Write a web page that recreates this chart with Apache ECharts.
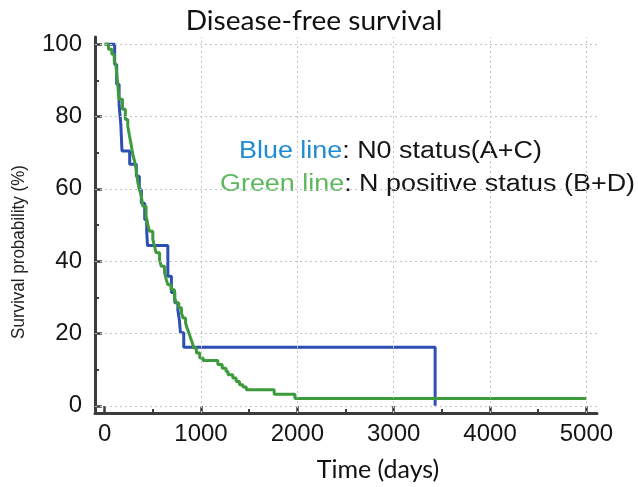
<!DOCTYPE html>
<html>
<head>
<meta charset="utf-8">
<script src="https://cdn.jsdelivr.net/npm/echarts@6/dist/echarts.min.js"></script>
<style>
html,body{margin:0;padding:0;background:#fff;}
#chart{width:638px;height:487px;}
</style>
</head>
<body>
<div id="chart"></div>
<script>
// ---- data ----
const xMajorTicks = [0, 1000, 2000, 3000, 4000, 5000];
const xMinorTicks = [500, 1500, 2500, 3500, 4500];
const yMajorTicks = [0, 20, 40, 60, 80, 100];
const yMinorTicks = [10, 30, 50, 70, 90];

// Blue line: N0 status (A+C) — time (days), survival (%) after each step
const blueTime = [0, 104, 125, 150, 168, 180, 260, 329, 360, 381, 416, 437, 445, 656, 693, 728, 760, 775, 787, 821, 3430];
const blueSurv = [100, 94.4, 88.9, 83.3, 77.8, 70.5, 66.8, 63.5, 59.8, 56, 51.5, 48, 44.3, 35.8, 31.3, 28.5, 26.5, 23.8, 20.2, 16.2, 0];

// Green line: N positive status (B+D)
const greenTime = [0, 40, 75, 100, 118, 128, 139, 149, 185, 215, 240, 258, 275, 292, 310, 327, 345, 362, 380, 397, 430, 448, 466, 500, 518, 535, 570, 587, 622, 640, 656, 690, 725, 745, 770, 797, 814, 840, 856, 876, 891, 911, 925, 953, 987, 1022, 1175, 1220, 1260, 1281, 1330, 1365, 1400, 1435, 1470, 1760, 1975, 5000];
const greenSurv = [100, 98.6, 97.2, 95.4, 94, 91.2, 88, 84.8, 82, 79.2, 77.4, 74.6, 72.3, 69.5, 67.7, 65.4, 61.7, 59.8, 58, 55.2, 52.4, 50.1, 48.3, 46, 44.1, 42.3, 40.4, 38.6, 36.8, 34.9, 33.5, 32.1, 29.8, 28.4, 27.1, 25.7, 24.3, 22.9, 21.5, 20.1, 18.8, 17.3, 16, 14.6, 13.2, 12.5, 11.4, 10.4, 9.5, 8.6, 7.7, 6.7, 5.8, 5.2, 4.4, 3.2, 2.0, 2.0];

const titleText = 'Disease-free survival';
const xName = 'Time (days)';
const yName = 'Survival probability (%)';

// ---- chart ----
const axisColor = '#3c3c3c';
const labelFont = 'Liberation Sans';
const zip = (a, b) => a.map((v, i) => [v, b[i]]);
const plain = v => String(v);

const chart = echarts.init(document.getElementById('chart'), null, {renderer: 'canvas'});

const xRange = {min: -100, max: 5110};
const yRange = {min: -2, max: 102};

const option = {
  animation: false,
  backgroundColor: '#fff',
  grid: {left: 95, right: 41, top: 37, bottom: 74, containLabel: false},
  xAxis: [
    {
      type: 'value', position: 'bottom', ...xRange,
      axisLine: {show: true, onZero: false, lineStyle: {color: axisColor, width: 3}},
      axisTick: {show: true, inside: true, length: 7, lineStyle: {color: axisColor, width: 2.5}, customValues: xMajorTicks},
      axisLabel: {show: true, customValues: xMajorTicks, formatter: plain, fontSize: 24, fontFamily: labelFont, color: '#151515', margin: 9},
      splitLine: {show: false}
    },
    {
      type: 'value', position: 'bottom', ...xRange,
      axisLine: {show: false, onZero: false},
      axisTick: {show: true, inside: true, length: 4, lineStyle: {color: axisColor, width: 2}, customValues: xMinorTicks},
      axisLabel: {show: false},
      splitLine: {show: false}
    }
  ],
  yAxis: [
    {
      type: 'value', position: 'left', ...yRange,
      axisLine: {show: true, onZero: false, lineStyle: {color: axisColor, width: 3}},
      axisTick: {show: true, inside: true, length: 7, lineStyle: {color: axisColor, width: 2.5}, customValues: yMajorTicks},
      axisLabel: {show: true, customValues: yMajorTicks, formatter: plain, fontSize: 24, fontFamily: labelFont, color: '#151515', margin: 13},
      splitLine: {show: false}
    },
    {
      type: 'value', position: 'left', ...yRange,
      axisLine: {show: false, onZero: false},
      axisTick: {show: true, inside: true, length: 4, lineStyle: {color: axisColor, width: 2}, customValues: yMinorTicks},
      axisLabel: {show: false},
      splitLine: {show: false}
    }
  ],
  series: [
    {
      name: 'grid', type: 'line', data: [], z: 1, silent: true,
      markLine: {
        silent: true, symbol: 'none', animation: false,
        label: {show: false},
        lineStyle: {type: [2, 3], color: '#c4c4c4', width: 1},
        data: xMajorTicks.filter(v => v > 0).map(v => ({xAxis: v}))
          .concat(yMajorTicks.map(v => ({yAxis: v})))
      }
    },
    {
      name: 'Blue line', type: 'line', step: 'end', showSymbol: false, z: 3,
      data: zip(blueTime, blueSurv),
      lineStyle: {color: '#2d4fb4', width: 3}
    },
    {
      name: 'Green line', type: 'line', step: 'end', showSymbol: false, z: 4,
      data: zip(greenTime, greenSurv),
      lineStyle: {color: '#3d9a3d', width: 3}
    }
  ],
  graphic: [
    {
      type: 'text', x: 314, y: 21, scaleX: 1.04,
      style: {text: titleText, fontSize: 27, fontFamily: 'Lato', fill: '#111', align: 'center', verticalAlign: 'middle'}
    },
    {
      type: 'text', x: 378, y: 470,
      style: {text: xName, fontSize: 25, fontFamily: 'Lato', fill: '#111', align: 'center', verticalAlign: 'middle'}
    },
    {
      type: 'text', x: 19, y: 252, rotation: Math.PI / 2, scaleY: 1.1,
      style: {text: yName, fontSize: 17, fontFamily: labelFont, fill: '#222', align: 'center', verticalAlign: 'middle'}
    },
    {
      type: 'text', x: 239, y: 152, scaleX: 1.17,
      style: {
        text: '{b|Blue line}: N0 status(A+C)',
        fontSize: 23, fontFamily: labelFont, fill: '#151515', align: 'left', verticalAlign: 'middle',
        rich: {b: {fill: '#1f8bd3', fontSize: 23, fontFamily: labelFont}}
      }
    },
    {
      type: 'text', x: 220, y: 185, scaleX: 1.17,
      style: {
        text: '{g|Green line}: N positive status (B+D)',
        fontSize: 23, fontFamily: labelFont, fill: '#151515', align: 'left', verticalAlign: 'middle',
        rich: {g: {fill: '#5cb85c', fontSize: 23, fontFamily: labelFont}}
      }
    }
  ]
};
chart.setOption(option);
</script>
</body>
</html>
